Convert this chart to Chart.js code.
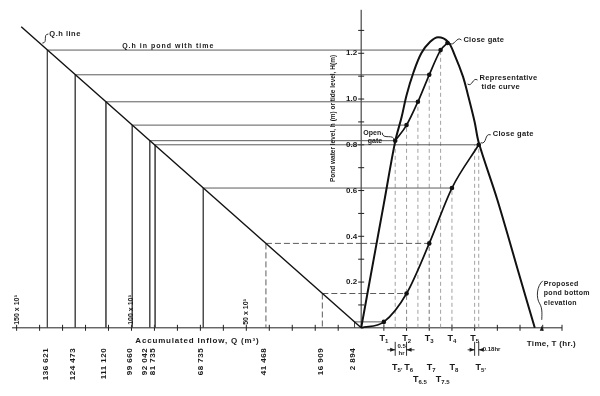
<!DOCTYPE html>
<html>
<head>
<meta charset="utf-8">
<script src="https://cdn.jsdelivr.net/npm/chart.js@4.4.1/dist/chart.umd.min.js"></script>
<style>
  html, body { margin: 0; padding: 0; background: #fff; }
  #wrap { width: 600px; height: 396px; position: relative; }
</style>
</head>
<body>
<div id="wrap"><canvas id="myChart"></canvas></div>
<script>
// Q-h line of the pond (accumulated inflow m3 -> level m)
const qhLineQ = [0, 148000];
const qhLineH = [0, 1.316];

// steps: printed inflow label, inflow, pond level, time on the T axis
const qLabels = ["136 621", "124 473", "111 120", "99 660", "92 042", "81 735", "68 735", "41 468", "16 909", "2 894"];
const qValues = [136621, 124473, 111120, 99660, 92042, 89700, 68735, 41468, 16909, 2894];
const stepLevels = [1.214, 1.106, 0.988, 0.886, 0.818, 0.8, 0.611, 0.369, 0.15, 0.026];
const stepTimes = [3.5, 3.0, 2.5, 2.0, 1.5, 5.18, 4, 3, 2, 1];
const stepDashed = [false, false, false, false, false, false, false, true, true, false];

// representative tide curve H(T)
const tideT = [0, 0.5, 1, 1.5, 1.78, 2.0, 2.3, 2.65, 3.04, 3.39, 3.83, 4.13, 4.48, 4.7, 5.0, 5.18, 6, 7, 7.65];
const tideH = [0, 0.272, 0.543, 0.815, 0.92, 1.017, 1.115, 1.2, 1.25, 1.27, 1.25, 1.19, 1.1, 1.02, 0.9, 0.81, 0.56, 0.22, 0];

// pond level, first filling, then after the gate opens again
const pond1T = [0, 1, 2, 3, 4, 5.18];
const pond1H = [0, 0.026, 0.15, 0.369, 0.611, 0.8];
const pond2T = [1.5, 2, 2.5, 3, 3.5, 3.8];
const pond2H = [0.818, 0.886, 0.988, 1.106, 1.214, 1.245];

// axes
const hTicks = [0.1, 0.2, 0.3, 0.4, 0.5, 0.6, 0.7, 0.8, 0.9, 1.0, 1.1, 1.2, 1.3];
const hTickLabels = [0.2, 0.4, 0.6, 0.8, 1.0, 1.2];
const qTicks = [10000, 20000, 30000, 40000, 50000, 60000, 70000, 80000, 90000, 100000, 110000, 120000, 130000, 140000, 150000];
const qTickLabels = [150000, 100000, 50000];
const timeTicks = [1, 2, 3, 4, 5, 6, 7, 8];
const timeRow1 = ["1", "2", "3", "4", "5"];
const timeRow1At = [1, 2, 3, 4, 5];
const timeRow2 = ["5'", "6", "7", "8", "5'"];
const timeRow2At = [1.5, 2, 3, 4, 5.18];
const timeRow3 = ["6.5", "7.5"];
const timeRow3At = [2.5, 3.5];

const FONT = '"Liberation Sans", Arial, sans-serif';
const gap = { x: 0, y: null };

function pairs(xs, ys) {
  return xs.map((x, i) => ({ x: x, y: ys[i] }));
}

function stepLines(pick, make) {
  const out = [];
  qValues.forEach((q, i) => {
    if (!pick(i)) return;
    out.push(...make(i), gap);
  });
  return out;
}

const solid = (i) => !stepDashed[i];
const dashed = (i) => stepDashed[i];
const leftH = (i) => [{ x: qValues[i], y: stepLevels[i] }, { x: 0, y: stepLevels[i] }];
const leftV = (i) => [{ x: qValues[i], y: stepLevels[i] }, { x: qValues[i], y: 0 }];
const rightH = (i) => [{ x: 0, y: stepLevels[i] }, { x: stepTimes[i], y: stepLevels[i] }];
const rightV = (i) => [{ x: stepTimes[i], y: 0 }, { x: stepTimes[i], y: stepLevels[i] }];

const thin = {
  showLine: true, pointRadius: 0, borderWidth: 0.9, borderColor: "#4a4a4a",
  spanGaps: false, yAxisID: "y",
};

const rightVerticals = stepLines(() => true, rightV);
rightVerticals.push({ x: 5, y: 0 }, { x: 5, y: pond1H[pond1H.length - 1] });

function text(ctx, s, x, y, size, align, base, rot, spacing) {
  ctx.save();
  ctx.translate(x, y);
  if (rot) ctx.rotate(rot);
  ctx.font = "bold " + size + "px " + FONT;
  ctx.letterSpacing = spacing || "0px";
  ctx.textAlign = align || "left";
  ctx.textBaseline = base || "middle";
  ctx.fillText(s, 0, 0);
  ctx.restore();
}

function tLabel(ctx, sub, x, y) {
  ctx.save();
  ctx.font = "bold 9px " + FONT;
  const w1 = ctx.measureText("T").width;
  ctx.font = "bold 6px " + FONT;
  const w2 = ctx.measureText(sub).width;
  const start = x - (w1 + w2) / 2;
  ctx.textBaseline = "middle";
  ctx.textAlign = "left";
  ctx.font = "bold 9px " + FONT;
  ctx.fillText("T", start, y);
  ctx.font = "bold 6px " + FONT;
  ctx.fillText(sub, start + w1, y + 3);
  ctx.restore();
}

function squiggle(ctx, x1, y1, x2, y2) {
  const dx = x2 - x1, dy = y2 - y1;
  const nx = -dy * 0.45, ny = dx * 0.45;
  ctx.beginPath();
  ctx.moveTo(x1, y1);
  ctx.bezierCurveTo(x1 + dx * 0.3 + nx, y1 + dy * 0.3 + ny, x1 + dx * 0.7 - nx, y1 + dy * 0.7 - ny, x2, y2);
  ctx.stroke();
}

function arrow(ctx, x, y, ang) {
  ctx.save();
  ctx.translate(x, y);
  ctx.rotate(ang);
  ctx.beginPath();
  ctx.moveTo(0, 0);
  ctx.lineTo(-5, -2);
  ctx.lineTo(-5, 2);
  ctx.closePath();
  ctx.fill();
  ctx.restore();
}

const drawing = {
  id: "drawing",
  beforeDatasetsDraw(chart) {
    const { ctx, scales } = chart;
    const X = (v) => scales.xQ.getPixelForValue(v);
    const T = (v) => scales.xT.getPixelForValue(v);
    const Y = (v) => scales.y.getPixelForValue(v);
    const x0 = T(0), y0 = Y(0);
    ctx.save();
    ctx.strokeStyle = "#222";
    ctx.lineWidth = 1;
    ctx.beginPath();
    ctx.moveTo(X(152000), y0);
    ctx.lineTo(T(8.85), y0);
    ctx.moveTo(x0, y0);
    ctx.lineTo(x0, Y(1.39));
    qTicks.forEach((q) => { ctx.moveTo(X(q), y0 - 3); ctx.lineTo(X(q), y0 + 3); });
    timeTicks.forEach((t) => { ctx.moveTo(T(t), y0 - 3); ctx.lineTo(T(t), y0 + 3); });
    hTicks.forEach((h) => { ctx.moveTo(x0 - 3, Y(h)); ctx.lineTo(x0 + 3, Y(h)); });
    ctx.moveTo(T(8.85), y0 - 3); ctx.lineTo(T(8.85), y0 + 3);
    ctx.stroke();
    ctx.restore();
  },
  afterDatasetsDraw(chart) {
    const { ctx, scales } = chart;
    const X = (v) => scales.xQ.getPixelForValue(v);
    const T = (v) => scales.xT.getPixelForValue(v);
    const Y = (v) => scales.y.getPixelForValue(v);
    const x0 = T(0), y0 = Y(0);
    ctx.save();
    ctx.fillStyle = "#1a1a1a";
    ctx.strokeStyle = "#1a1a1a";
    ctx.lineWidth = 0.9;

    // h axis
    hTickLabels.forEach((h) => text(ctx, h.toFixed(1), x0 - 4, Y(h), 8, "right"));
    text(ctx, "Pond water level, h (m) or tide level, H(m)", x0 - 28, Y(0.915), 6.5, "center", "middle", -Math.PI / 2);

    // Q axis
    text(ctx, "Accumulated Inflow, Q (m³)", X(71300), y0 + 13, 8, "center", "middle", 0, "0.8px");
    qLabels.forEach((s, i) => {
      let lx = X(qValues[i]) - 2;
      const next = qValues[i + 1];
      if (next !== undefined && X(next) - X(qValues[i]) < 8) lx -= 3;
      text(ctx, s, lx, y0 + 20, 8, "right", "middle", -Math.PI / 2, "0.5px");
    });
    qTickLabels.forEach((q) => text(ctx, (q / 1000) + " x 10³", X(q), y0 - 3, 7, "left", "middle", -Math.PI / 2));
    text(ctx, "Q.h line", X(qValues[0]) + 2, Y(stepLevels[0]) - 16, 7.5, "left", "middle", 0, "0.5px");
    squiggle(ctx, X(qValues[0]) + 1, Y(stepLevels[0]) - 16, X(qValues[0]) - 5, Y(stepLevels[0]) - 7);
    text(ctx, "Q.h in pond with time", X(84000), Y(stepLevels[0]) - 1, 7, "center", "bottom", 0, "1px");

    // T axis
    timeRow1.forEach((s, i) => tLabel(ctx, s, T(timeRow1At[i]), y0 + 11));
    timeRow2.forEach((s, i) => tLabel(ctx, s, T(timeRow2At[i]) + 2, y0 + 40));
    timeRow3.forEach((s, i) => tLabel(ctx, s, T(timeRow3At[i]) + 2, y0 + 52));
    text(ctx, "Time, T (hr.)", T(7.3), y0 + 16, 8, "left", "middle", 0, "0.3px");

    // dimension marks
    ctx.beginPath();
    [1.5, 2, 5, 5.18].forEach((t) => { ctx.moveTo(T(t), y0 + 14); ctx.lineTo(T(t), y0 + 28); });
    ctx.moveTo(T(1.5) - 8, y0 + 22); ctx.lineTo(T(1.5), y0 + 22);
    ctx.moveTo(T(2) + 8, y0 + 22); ctx.lineTo(T(2), y0 + 22);
    ctx.moveTo(T(5) - 7, y0 + 22); ctx.lineTo(T(5), y0 + 22);
    ctx.moveTo(T(5.18) + 3, y0 + 22); ctx.lineTo(T(5.18), y0 + 22);
    ctx.stroke();
    arrow(ctx, T(1.5), y0 + 22, 0);
    arrow(ctx, T(2), y0 + 22, Math.PI);
    arrow(ctx, T(5), y0 + 22, 0);
    arrow(ctx, T(5.18), y0 + 22, Math.PI);
    text(ctx, "0.5", T(1.78), y0 + 19, 6, "center");
    text(ctx, "hr", T(1.78), y0 + 26, 6, "center");
    text(ctx, "0.18hr", T(5.18) + 4, y0 + 22, 6, "left");

    // gate notes
    const cgx = T(pond2T[pond2T.length - 1]), cgy = Y(pond2H[pond2H.length - 1]);
    text(ctx, "Close gate", cgx + 16, cgy - 3, 7.5, "left", "middle", 0, "0.3px");
    squiggle(ctx, cgx + 14, cgy - 3, cgx + 2, cgy);
    const c2x = T(pond1T[pond1T.length - 1]), c2y = Y(pond1H[pond1H.length - 1]);
    text(ctx, "Close gate", c2x + 14, c2y - 11, 7.5, "left", "middle", 0, "0.3px");
    squiggle(ctx, c2x + 12, c2y - 10, c2x + 2, c2y - 2);
    const ogx = T(pond2T[0]), ogy = Y(pond2H[0]);
    text(ctx, "Open", ogx - 14, ogy - 8, 7, "right");
    text(ctx, "gate", ogx - 13, ogy, 7, "right");
    squiggle(ctx, ogx - 13, ogy - 8, ogx - 1, ogy);
    const rtx = T(4.6), rty = Y(1.07);
    text(ctx, "Representative", rtx + 14, rty - 5, 7.5, "left", "middle", 0, "0.3px");
    text(ctx, "tide curve", rtx + 16, rty + 4, 7.5, "left", "middle", 0, "0.3px");
    squiggle(ctx, rtx + 12, rty - 3, rtx + 2, rty + 1);

    // pond bottom note
    const pbx = T(tideT[tideT.length - 1]);
    text(ctx, "Proposed", pbx + 9, y0 - 44, 7, "left", "middle", 0, "0.3px");
    text(ctx, "pond bottom", pbx + 9, y0 - 35, 7, "left", "middle", 0, "0.3px");
    text(ctx, "elevation", pbx + 9, y0 - 25, 7, "left", "middle", 0, "0.3px");
    ctx.beginPath();
    ctx.moveTo(pbx + 8, y0 - 47);
    ctx.bezierCurveTo(pbx + 2, y0 - 42, pbx + 1, y0 - 30, pbx + 5, y0 - 24);
    ctx.bezierCurveTo(pbx + 8, y0 - 19, pbx + 7, y0 - 12, pbx + 7, y0 - 8);
    ctx.stroke();
    arrow(ctx, pbx + 7, y0 - 2, -Math.PI / 2);
    ctx.restore();
  },
};

new Chart(document.getElementById("myChart"), {
  type: "scatter",
  data: {
    datasets: [
      {
        data: pairs(tideT, tideH), xAxisID: "xT", yAxisID: "y", showLine: true,
        borderColor: "#111", borderWidth: 2, pointRadius: 0, tension: 0.35,
      },
      {
        data: pairs(pond1T, pond1H), xAxisID: "xT", yAxisID: "y", showLine: true,
        borderColor: "#111", borderWidth: 1.7, cubicInterpolationMode: "monotone",
        pointRadius: (c) => (c.dataIndex === 0 ? 0 : 2.3), pointBackgroundColor: "#111", pointBorderWidth: 0,
      },
      {
        data: pairs(pond2T, pond2H), xAxisID: "xT", yAxisID: "y", showLine: true,
        borderColor: "#111", borderWidth: 1.7, cubicInterpolationMode: "monotone",
        pointRadius: 2.3, pointBackgroundColor: "#111", pointBorderWidth: 0,
      },
      {
        data: pairs(qhLineQ, qhLineH), xAxisID: "xQ", yAxisID: "y", showLine: true,
        borderColor: "#111", borderWidth: 1.4, pointRadius: 0,
      },
      { ...thin, data: stepLines(solid, leftH), xAxisID: "xQ" },
      { ...thin, data: stepLines(dashed, leftH), xAxisID: "xQ", borderDash: [6, 3] },
      { ...thin, data: stepLines(solid, leftV), xAxisID: "xQ" },
      { ...thin, data: stepLines(dashed, leftV), xAxisID: "xQ", borderDash: [6, 3] },
      { ...thin, data: stepLines(solid, rightH), xAxisID: "xT" },
      { ...thin, data: stepLines(dashed, rightH), xAxisID: "xT", borderDash: [6, 3] },
      { ...thin, data: rightVerticals, xAxisID: "xT", borderDash: [4, 3], borderColor: "#8a8a8a", borderWidth: 0.8 },
    ],
  },
  options: {
    responsive: true,
    maintainAspectRatio: false,
    animation: false,
    layout: { padding: 0 },
    plugins: {
      legend: { display: false },
      tooltip: { enabled: false },
      title: { display: false },
    },
    scales: {
      xQ: { type: "linear", reverse: true, min: -102234, max: 155498, display: false },
      xT: { type: "linear", min: -15.739, max: 10.348, display: false },
      y: { type: "linear", min: -0.2805, max: 1.4154, display: false },
    },
  },
  plugins: [drawing],
});
</script>
</body>
</html>
